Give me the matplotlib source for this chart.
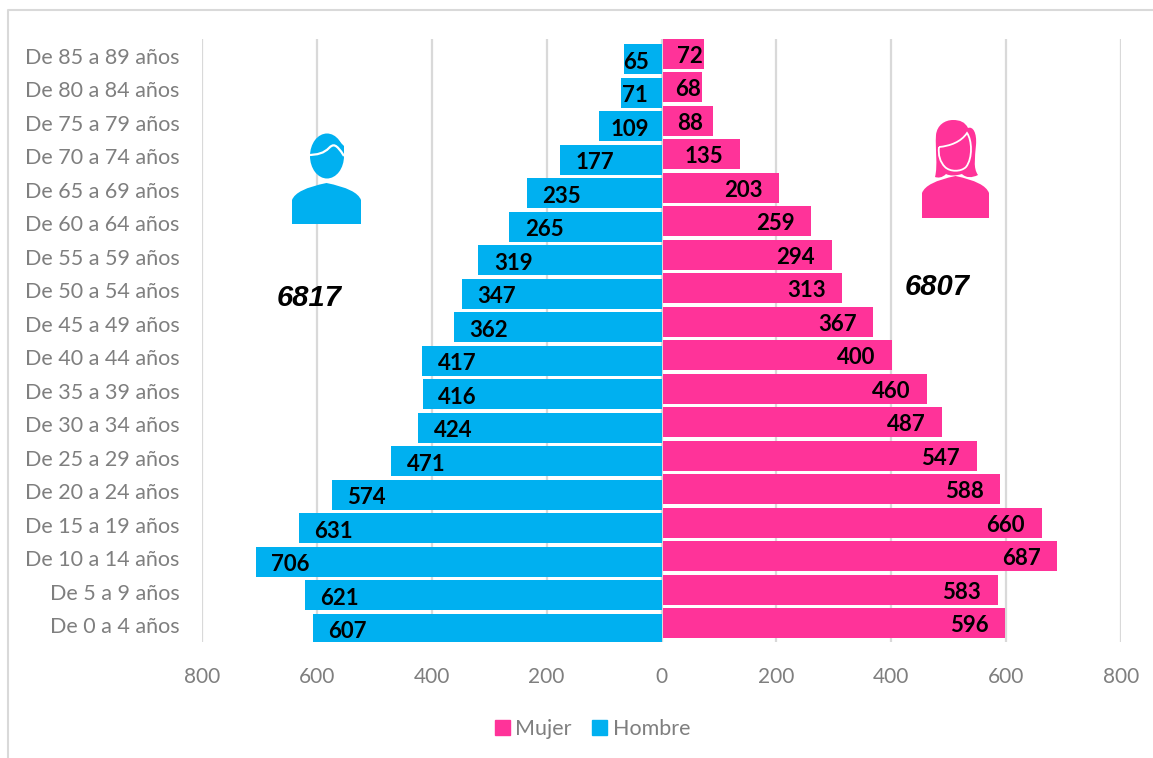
import numpy as np
import matplotlib.pyplot as plt
from matplotlib.patches import Ellipse, PathPatch, Polygon, Rectangle
from matplotlib.path import Path
from matplotlib.transforms import Affine2D

W, H = 1153, 758

grupos = ['De 0 a 4 años', 'De 5 a 9 años', 'De 10 a 14 años', 'De 15 a 19 años',
          'De 20 a 24 años', 'De 25 a 29 años', 'De 30 a 34 años', 'De 35 a 39 años',
          'De 40 a 44 años', 'De 45 a 49 años', 'De 50 a 54 años', 'De 55 a 59 años',
          'De 60 a 64 años', 'De 65 a 69 años', 'De 70 a 74 años', 'De 75 a 79 años',
          'De 80 a 84 años', 'De 85 a 89 años']
hombre = [607, 621, 706, 631, 574, 471, 424, 416, 417, 362, 347, 319, 265, 235, 177, 109, 71, 65]
mujer = [596, 583, 687, 660, 588, 547, 487, 460, 400, 367, 313, 294, 259, 203, 135, 88, 68, 72]
total_hombre = 6817
total_mujer = 6807
ticks = [-800, -600, -400, -200, 0, 200, 400, 600, 800]

ROSA = '#FF3399'
AZUL = '#00B0F0'
GRIS = '#7F7F7F'
LINEA = '#D9D9D9'

plt.rcParams['font.family'] = ['Lato', 'DejaVu Sans']

fig = plt.figure(figsize=(W / 100, H / 100), dpi=100)
ax = fig.add_axes([202 / W, 1 - 642 / H, 919 / W, 603 / H])

y = np.arange(len(grupos))
ax.set_axisbelow(True)
ax.grid(axis='x', color=LINEA, linewidth=1.6)
ax.barh(y + 0.06, mujer, height=0.9, left=2, color=ROSA, linewidth=0, label='Mujer')
ax.barh(y - 0.10, [-v for v in hombre], height=0.9, color=AZUL, linewidth=0, label='Hombre')

# las etiquetas van dentro de la barra, pegadas al extremo
for i in y:
    pad = np.clip(0.5 * (hombre[i] - 68), -3, 27)
    ax.text(-hombre[i] + pad, i - 0.19, str(hombre[i]), ha='left', va='center',
            fontsize=16, fontweight='bold', color='black')
    pad = np.clip(mujer[i] - 72, 0, 27)
    ax.text(mujer[i] - pad, i - 0.01, str(mujer[i]), ha='right', va='center',
            fontsize=16, fontweight='bold', color='black')

ax.set_xlim(-800, 800)
ax.set_ylim(-0.5, len(grupos) - 0.5)
ax.set_xticks(ticks)
ax.set_xticklabels([str(abs(t)) for t in ticks])
ax.set_yticks(y)
ax.set_yticklabels(grupos)
ax.tick_params(axis='x', length=0, labelcolor=GRIS, labelsize=15, pad=18)
ax.tick_params(axis='y', length=0, labelcolor=GRIS, labelsize=15.5, pad=16)
for s in ax.spines.values():
    s.set_visible(False)

# marco exterior
px = Affine2D().scale(1 / W, -1 / H).translate(0, 1) + fig.transFigure
fig.add_artist(plt.Line2D([8, 8, W], [H, 10, 10], color=LINEA, linewidth=1.5, transform=px))


def add(patch):
    patch.set_transform(px)
    patch.set_clip_on(False)
    fig.add_artist(patch)


def curva(puntos):
    # primer punto y luego ternas de bezier
    codes = [Path.MOVETO] + [Path.CURVE4] * (len(puntos) - 1)
    return Path(puntos, codes)


def cuerpo(x0, x1, top, bottom, color):
    mid = (x0 + x1) / 2
    verts = [(x0, bottom), (x0, top + 17), (x0 + 4, top + 6), (mid, top),
             (x1 - 4, top + 6), (x1, top + 17), (x1, bottom), (x0, bottom)]
    codes = [Path.MOVETO, Path.LINETO, Path.CURVE3, Path.CURVE3, Path.CURVE3, Path.CURVE3,
             Path.LINETO, Path.CLOSEPOLY]
    add(PathPatch(Path(verts, codes), facecolor=color, edgecolor='none'))


# icono hombre
cuerpo(292, 361, 183, 224, AZUL)
add(Ellipse((327, 156), 34, 45, facecolor=AZUL, edgecolor='none'))
add(Polygon([(319, 136), (335, 137), (344, 146), (344, 156), (335, 148)], facecolor=AZUL, edgecolor='none'))
add(PathPatch(curva([(307, 155), (318, 155), (324, 153), (329, 148), (333, 144), (336, 143), (344, 156)]),
              facecolor='none', edgecolor='white', linewidth=1.6))

# icono mujer
pelo = curva([(935, 177), (938, 165), (935, 150), (936, 135), (937, 125), (945, 120), (953, 120),
              (960, 120), (965, 122), (968, 128), (973, 126), (977, 133), (976, 145),
              (975, 158), (973, 168), (978, 175), (972, 178), (966, 178), (962, 174),
              (955, 176), (950, 176), (946, 174), (942, 178), (938, 178), (935, 177)])
add(PathPatch(pelo, facecolor=ROSA, edgecolor='none'))
cara = curva([(939, 147), (950, 146), (961, 142), (967, 133), (972, 140), (973, 158), (966, 167),
              (961, 172), (950, 172), (945, 167), (940, 162), (938, 155), (939, 147)])
add(PathPatch(cara, facecolor=ROSA, edgecolor='white', linewidth=1.3))
cuerpo(922, 989, 176, 218, ROSA)

# totales
fig.text(309 / W, 1 - 298 / H, str(total_hombre), ha='center', va='center', fontsize=21,
         fontweight='bold', fontstyle='italic', family='Liberation Sans', color='black')
fig.text(937 / W, 1 - 287 / H, str(total_mujer), ha='center', va='center', fontsize=21,
         fontweight='bold', fontstyle='italic', family='Liberation Sans', color='black')

fig.legend(handles=[Rectangle((0, 0), 1, 1, color=ROSA), Rectangle((0, 0), 1, 1, color=AZUL)],
           labels=['Mujer', 'Hombre'], loc='center', bbox_to_anchor=(592.5 / W, 1 - 729 / H), ncol=2,
           frameon=False, fontsize=15.5, labelcolor=GRIS, handlelength=0.7, handleheight=0.7,
           handletextpad=0.25, columnspacing=0.95)

fig.savefig('out.png', dpi=100)
